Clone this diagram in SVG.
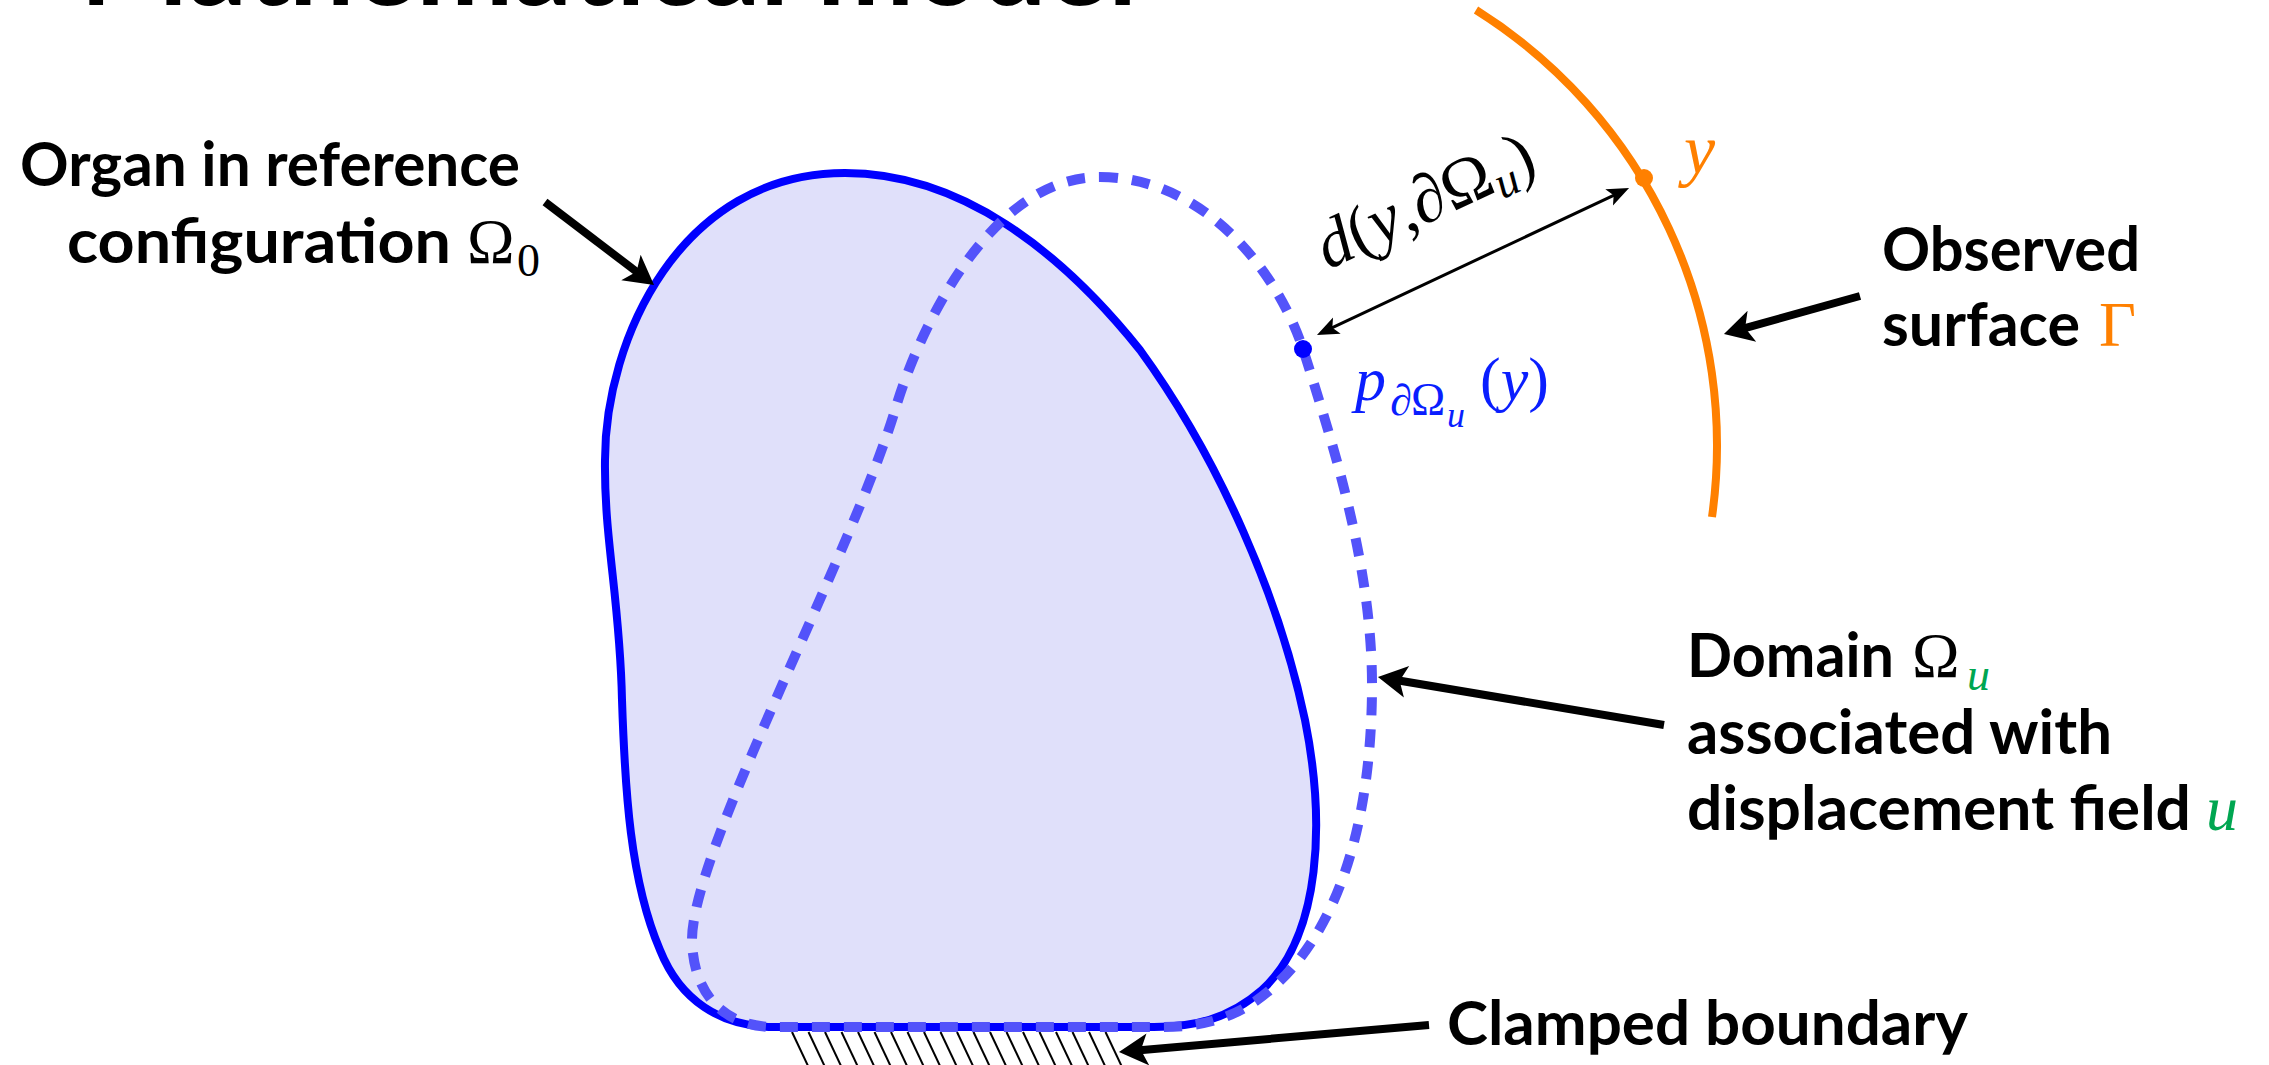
<svg xmlns="http://www.w3.org/2000/svg" width="2269" height="1065" viewBox="0 0 2269 1065">
<style>
.lbl{font-family:Lato,"Noto Sans","DejaVu Sans",sans-serif;font-weight:700;fill:#000}
.mi{font-family:"Liberation Serif","DejaVu Serif",serif;font-style:italic}
.up{font-style:normal}
.conn{stroke:#000;fill:none}
.thick{stroke-width:8}
.thin{stroke-width:3}
.hatch line{stroke:#000;stroke-width:2}
</style>
<defs>
<marker id="ah" markerUnits="userSpaceOnUse" viewBox="-30 -17 32 34" refX="-18" refY="0" markerWidth="32" markerHeight="34" orient="auto">
<path d="M0,0 L-29,-16 L-22,0 L-29,16 Z" fill="#000"/>
</marker>
<marker id="ahs" markerUnits="userSpaceOnUse" viewBox="-24 -11 26 22" refX="-10" refY="0" markerWidth="26" markerHeight="22" orient="auto-start-reverse">
<path d="M0,0 L-22,-9 L-17,0 L-22,9 Z" fill="#000"/>
</marker>
</defs>
<rect width="2269" height="1065" fill="#fff"/>

<g id="title">
<text class="lbl" x="80" y="5" font-size="117" textLength="1057" lengthAdjust="spacingAndGlyphs">Mathematical model</text>
</g>

<g id="clamp-hatch" class="hatch">
<line x1="792" y1="1032" x2="809" y2="1068"/>
<line x1="808.5" y1="1032" x2="825.5" y2="1068"/>
<line x1="825" y1="1032" x2="842" y2="1068"/>
<line x1="841.5" y1="1032" x2="858.5" y2="1068"/>
<line x1="858" y1="1032" x2="875" y2="1068"/>
<line x1="874.5" y1="1032" x2="891.5" y2="1068"/>
<line x1="891" y1="1032" x2="908" y2="1068"/>
<line x1="907.5" y1="1032" x2="924.5" y2="1068"/>
<line x1="924" y1="1032" x2="941" y2="1068"/>
<line x1="940.5" y1="1032" x2="957.5" y2="1068"/>
<line x1="957" y1="1032" x2="974" y2="1068"/>
<line x1="973.5" y1="1032" x2="990.5" y2="1068"/>
<line x1="990" y1="1032" x2="1007" y2="1068"/>
<line x1="1006.5" y1="1032" x2="1023.5" y2="1068"/>
<line x1="1023" y1="1032" x2="1040" y2="1068"/>
<line x1="1039.5" y1="1032" x2="1056.5" y2="1068"/>
<line x1="1056" y1="1032" x2="1073" y2="1068"/>
<line x1="1072.5" y1="1032" x2="1089.5" y2="1068"/>
<line x1="1089" y1="1032" x2="1106" y2="1068"/>
<line x1="1105.5" y1="1032" x2="1122.5" y2="1068"/>
</g>

<g id="organ-reference">
<path d="M 845,173 C 960,173 1060,250 1140,350 C 1220,460 1280,600 1305,720 C 1325,820 1322,935 1262,990 C 1228,1020 1192,1027 1154,1027 L 775,1027 C 720,1027 680,1000 660,950 C 630,880 625,790 622,700 C 620,600 604,540 605,460 C 605,340 680,173 845,173 Z" fill="#E0E0FA" stroke="#0000FF" stroke-width="8"/>
</g>

<g id="domain-u">
<path d="M 1100,177 C 1200,177 1275,265 1303,349 C 1335,450 1373,570 1372,690 C 1371,820 1340,930 1270,990 C 1235,1020 1200,1027 1160,1027 L 775,1027 C 720,1027 693,990 692,940 C 692,850 850,560 896,407 C 919,330 990,177 1100,177 Z" fill="none" stroke="#5353FA" stroke-width="10" stroke-dasharray="18 14"/>
</g>

<g id="observed-surface">
<path d="M 1476,10 A 514 514 0 0 1 1712,517" fill="none" stroke="#FF8000" stroke-width="8"/>
<circle cx="1644" cy="178" r="9" fill="#FF8000"/>
<text class="mi" x="1684" y="173" font-size="70" fill="#FF8000">y</text>
</g>

<g id="projection-point">
<circle cx="1303" cy="349" r="9" fill="#0000FF"/>
<text class="mi" font-size="62" fill="#0A1EFF"><tspan x="1355" y="400">p</tspan><tspan x="1390" y="415" font-size="44">∂</tspan><tspan class="up" x="1411" y="415" font-size="46">Ω</tspan><tspan x="1447" y="427" font-size="36">u</tspan><tspan class="up" x="1480" y="400">(</tspan>y<tspan class="up">)</tspan></text>
</g>

<g id="distance-label">
<text class="mi" transform="translate(1328,270) rotate(-25)" font-size="68" fill="#000">d<tspan class="up">(</tspan>y<tspan class="up">,</tspan>∂<tspan class="up">Ω</tspan><tspan font-size="46" dy="10">u</tspan><tspan class="up" dy="-10">)</tspan></text>
</g>

<g id="label-organ">
<text class="lbl" x="20" y="186" font-size="62" textLength="500" lengthAdjust="spacingAndGlyphs">Organ in reference</text>
<text class="lbl" x="67" y="263" font-size="62" textLength="384" lengthAdjust="spacingAndGlyphs">configuration</text>
<text class="mi up" x="467" y="263" font-size="64">Ω</text>
<text class="mi up" x="517" y="276" font-size="46">0</text>
</g>

<g id="label-observed">
<text class="lbl" x="1882" y="271" font-size="62" textLength="258" lengthAdjust="spacingAndGlyphs">Observed</text>
<text class="lbl" x="1882" y="346" font-size="62" textLength="198" lengthAdjust="spacingAndGlyphs">surface</text>
<text class="mi up" x="2099" y="346" font-size="64" fill="#FF8000">Γ</text>
</g>

<g id="label-domain">
<text class="lbl" x="1687" y="677" font-size="62" textLength="207" lengthAdjust="spacingAndGlyphs">Domain</text>
<text class="mi up" x="1912" y="677" font-size="64">Ω</text>
<text class="mi" x="1967" y="690" font-size="46" fill="#00A651">u</text>
<text class="lbl" x="1687" y="754" font-size="62" textLength="425" lengthAdjust="spacingAndGlyphs">associated with</text>
<text class="lbl" x="1687" y="830" font-size="62" textLength="504" lengthAdjust="spacingAndGlyphs">displacement field</text>
<text class="mi" x="2206" y="830" font-size="64" fill="#00A651">u</text>
</g>

<g id="label-clamped">
<text class="lbl" x="1447" y="1045" font-size="62" textLength="521" lengthAdjust="spacingAndGlyphs">Clamped boundary</text>
</g>

<g id="connectors">
<line class="conn thick" x1="545" y1="202" x2="639.7" y2="274.1" marker-end="url(#ah)"/>
<line class="conn thick" x1="1860" y1="296" x2="1741.3" y2="329.2" marker-end="url(#ah)"/>
<line class="conn thick" x1="1664" y1="725" x2="1395.7" y2="680" marker-end="url(#ah)"/>
<line class="conn thick" x1="1429" y1="1025" x2="1136.9" y2="1050.4" marker-end="url(#ah)"/>
<line class="conn thin" x1="1326" y1="330.7" x2="1620" y2="192.3" marker-start="url(#ahs)" marker-end="url(#ahs)"/>
</g>
</svg>
